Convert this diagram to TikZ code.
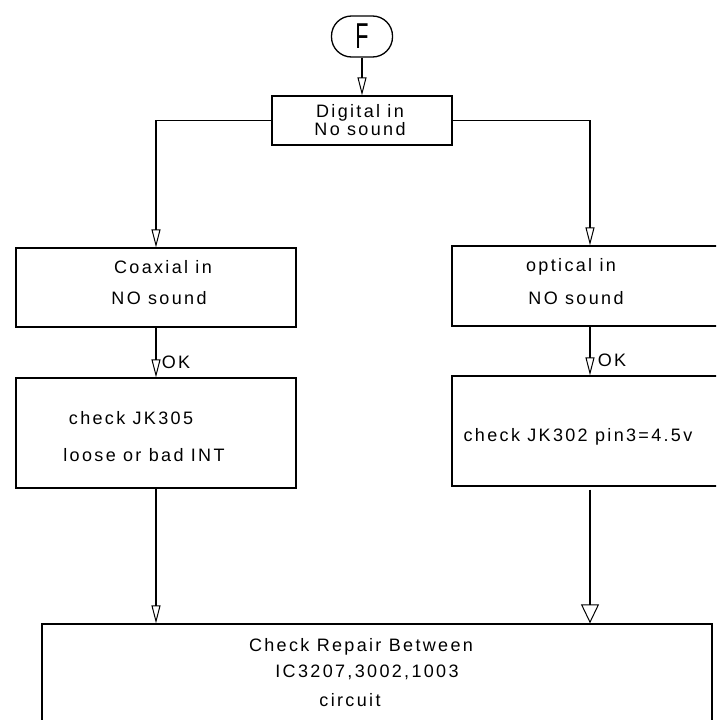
\documentclass[tikz,border=0pt]{standalone}
\usepackage{fontspec}
\usepackage{graphicx}
\newfontfamily\cad{Liberation Sans}[LetterSpace=13]
\newfontfamily\cadF{Liberation Sans}
\usetikzlibrary{arrows.meta,calc}
\begin{document}
\begin{tikzpicture}[x=1pt,y=-1pt,line width=1.3pt,
  box/.style={draw,rectangle,inner sep=0pt,line width=1.3pt},
  txt/.style={font=\cad\fontsize{18}{19}\selectfont,inner sep=0pt,text height=13pt,text depth=0pt,anchor=center},
  arr/.style={-{Triangle[open,length=18pt,width=9pt,line width=1pt]}},
  bigarr/.style={-{Triangle[open,length=19pt,width=18pt,line width=1pt]}}]
\useasboundingbox (0,0) rectangle (716,720);
\clip (0,0) rectangle (716,720);
% boxes
\node[box,minimum width=61pt,minimum height=41pt,rounded corners=20pt] (F) at (362,36.5)
  {\cadF\fontsize{36}{38}\selectfont\scalebox{0.6}[1]{F}};
\node[box,minimum width=180pt,minimum height=49pt] (dig) at (362,120.5) {};
\node[box,minimum width=280pt,minimum height=79pt] (coax) at (156,287.5) {};
\node[box,minimum width=276pt,minimum height=80pt] (opt) at (590,286) {};
\node[box,minimum width=280pt,minimum height=110pt] (chk1) at (156,433) {};
\node[box,minimum width=276pt,minimum height=110pt] (chk2) at (590,431) {};
\node[box,minimum width=670pt,minimum height=120pt] (bot) at (377,684) {};
% texts
\node[txt] (digt1) at (360,111) {Digital in};
\node[txt] (digt2) at (360,129) {No sound};
\node[txt] (coaxt1) at (163,267) {Coaxial in};
\node[txt] (coaxt2) at (159,298) {NO sound};
\node[txt] (optt1) at (571,265) {optical in};
\node[txt] (optt2) at (576,298) {NO sound};
\node[txt] (chk1t1) at (131,418) {check JK305};
\node[txt] (chk1t2) at (144,455) {loose or bad INT};
\node[txt] (chk2t) at (578,435) {check JK302 pin3=4.5v};
\node[txt] (bott1) at (361,645) {Check Repair Between};
\node[txt] (bott2) at (367,671) {IC3207,3002,1003};
\node[txt] (bott3) at (350,700) {circuit};
\node[txt] (ok1) at (176,362) {OK};
\node[txt] (ok2) at (612,360) {OK};
% connectors
\draw[arr] (F.south) -- (F.south |- dig.north);
\draw[arr] (dig.west) -| (coax.north);
\draw[arr] (dig.east) -| (opt.north);
\draw[arr] (coax.south) -- (chk1.north);
\draw[arr] (opt.south) -- (chk2.north);
\draw[arr] (chk1.south) -- (chk1.south |- bot.north);
\draw[bigarr,shorten <=3pt] (chk2.south) -- (chk2.south |- bot.north);
\end{tikzpicture}
\end{document}
